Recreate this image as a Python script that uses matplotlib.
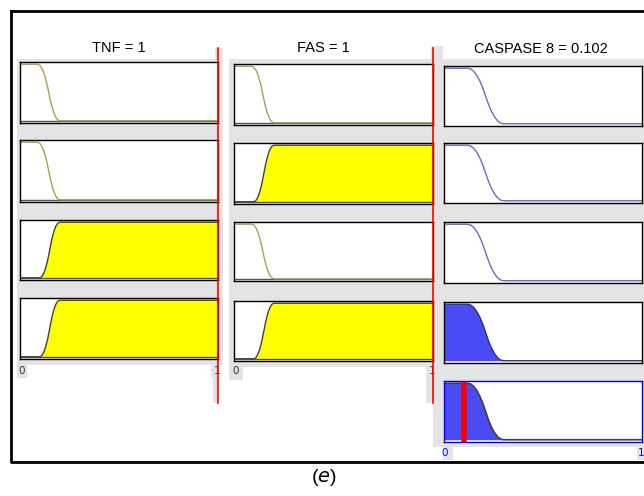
import matplotlib
matplotlib.use("Agg")
import matplotlib.pyplot as plt
from matplotlib.patches import Rectangle
from matplotlib.lines import Line2D

# --- data read from the rule viewer ---
titles = ["TNF = 1", "FAS = 1", "CASPASE 8 = 0.102"]
inputs = [1.0, 1.0]
output_value = 0.102

# membership function shapes
low_x = [0, 0.09, 0.10, 0.11, 0.12, 0.13, 0.14, 0.15, 0.16, 0.17, 0.18, 0.19, 0.20, 1]
low_y = [1, 1, 0.983, 0.934, 0.851, 0.736, 0.587, 0.413, 0.264, 0.149, 0.066, 0.017, 0, 0]
high_x = [0, 0.10, 0.11, 0.12, 0.13, 0.14, 0.15, 0.16, 0.17, 0.18, 0.19, 0.20, 1]
high_y = [0, 0, 0.02, 0.08, 0.18, 0.32, 0.50, 0.68, 0.82, 0.92, 0.98, 1, 1]
out_x = [0, 0.12, 0.135, 0.15, 0.165, 0.18, 0.195, 0.21, 0.225, 0.24, 0.255, 0.27, 0.285, 0.30, 1]
out_y = [1, 1, 0.986, 0.944, 0.875, 0.778, 0.653, 0.50, 0.347, 0.222, 0.125, 0.056, 0.014, 0, 0]

# rules: TNF mf, FAS mf, firing strength
tnf_rules = ["low", "low", "high", "high"]
fas_rules = ["low", "high", "low", "high"]
firing = [0, 0, 0, 1]

W, H = 644, 496
fig = plt.figure(figsize=(W / 100, H / 100), dpi=100)
fig.patch.set_facecolor("white")

GRAY = "#e4e4e4"


def rect(x0, y0, x1, y1):
    return [x0 / W, 1 - y1 / H, (x1 - x0) / W, (y1 - y0) / H]


def box(x0, y0, x1, y1, color=GRAY):
    fig.patches.append(Rectangle((x0 / W, 1 - y1 / H), (x1 - x0) / W, (y1 - y0) / H,
                                 transform=fig.transFigure, color=color, lw=0, zorder=-2))


def vline(x, y0, y1, color="red", lw=1.2):
    fig.lines.append(Line2D([x / W, x / W], [1 - y0 / H, 1 - y1 / H],
                            transform=fig.transFigure, color=color, lw=lw, zorder=5))


# gray backgrounds
box(17, 59, 223, 365)
box(215, 48, 223, 59)
box(17, 365, 27, 378)
box(211, 365, 219, 378)
box(213, 378, 219, 403)
box(229, 59, 433, 367)
box(229, 367, 243, 380)
box(426, 367, 433, 403)
box(431, 46, 443, 59)
box(433, 59, 644, 447)
box(443, 447, 453, 460)
box(637, 447, 644, 460)

# outer frame
fig.lines.append(Line2D([11 / W, 11 / W, 1], [1 - 11 / H, 1 - 462 / H, 1 - 462 / H],
                        transform=fig.transFigure, color="black", lw=2))
fig.lines.append(Line2D([11 / W, 1], [1 - 11 / H, 1 - 11 / H],
                        transform=fig.transFigure, color="black", lw=2))

col_x = [(20, 218), (234, 433), (444, 642)]
col_rows = [
    [(62, 123), (140, 202), (220, 280), (298, 359)],
    [(64, 125), (143, 204), (222, 281), (301, 361)],
    [(66, 126), (143, 203), (222, 283), (302, 363)],
]


def setup(ax, edge="black"):
    ax.set_xlim(0, 1)
    ax.set_ylim(-0.04, 1.04)
    ax.set_xticks([])
    ax.set_yticks([])
    for s in ax.spines.values():
        s.set_color(edge)
        s.set_linewidth(1)


# input columns
for c, rules in enumerate([tnf_rules, fas_rules]):
    x0, x1 = col_x[c]
    for r, mf in enumerate(rules):
        y0, y1 = col_rows[c][r]
        ax = fig.add_axes(rect(x0, y0, x1, y1))
        setup(ax)
        xs, ys = (low_x, low_y) if mf == "low" else (high_x, high_y)
        ax.axhline(0, color="#555555", lw=1)
        # degree of membership at the input value
        deg = ys[-1] if inputs[c] >= 1 else 0
        if deg > 0:
            ax.fill_between(xs, ys, 0, color="#ffff00", lw=0)
            ax.plot(xs, ys, color="#404040", lw=1)
        else:
            ax.plot(xs, ys, color="#aaa055", lw=1)
    # tick labels
    fig.text((x0 - 2) / W, 1 - 371 / H, "0", fontsize=7.5, color="#333333", ha="left", va="center")
    fig.text((x1 - 4) / W, 1 - 371 / H, "1", fontsize=7.5, color="#333333", ha="left", va="center")
    vline(x1, 48, 403)

# output column
x0, x1 = col_x[2]
for r, f in enumerate(firing):
    y0, y1 = col_rows[2][r]
    ax = fig.add_axes(rect(x0, y0, x1, y1))
    setup(ax)
    if f > 0:
        ax.fill_between(out_x, [min(v, f) for v in out_y], 0, color="#4b4bf5", lw=0)
        ax.plot(out_x, [min(v, f) for v in out_y], color="#30307a", lw=1)
    else:
        ax.plot(out_x, out_y, color="#6a6ac4", lw=1)

# aggregated output
ax = fig.add_axes(rect(444, 381, 642, 442))
setup(ax, edge="#0000ff")
agg = [max(min(v, f) for f in firing) for v in out_y]
ax.fill_between(out_x, agg, 0, color="#4b4bf5", lw=0)
ax.plot(out_x, agg, color="#404040", lw=1.2)
ax.axvline(output_value, color="red", lw=4)
fig.text(441 / W, 1 - 453 / H, "0", fontsize=7.5, color="#0000ff", ha="left", va="center")
fig.text(638 / W, 1 - 453 / H, "1", fontsize=7.5, color="#0000ff", ha="left", va="center")

# titles
title_x = [119, 323, 541]
title_y = [47.5, 47.5, 49]
for t, tx, ty in zip(titles, title_x, title_y):
    fig.text(tx / W, 1 - ty / H, t, fontsize=10.5, family="Liberation Sans",
             ha="center", va="center")

fig.text(324 / W, 1 - 478 / H, "($\\it{e}$)", fontsize=14, family="Liberation Sans",
         ha="center", va="center")

plt.savefig("out.png", dpi=100)
